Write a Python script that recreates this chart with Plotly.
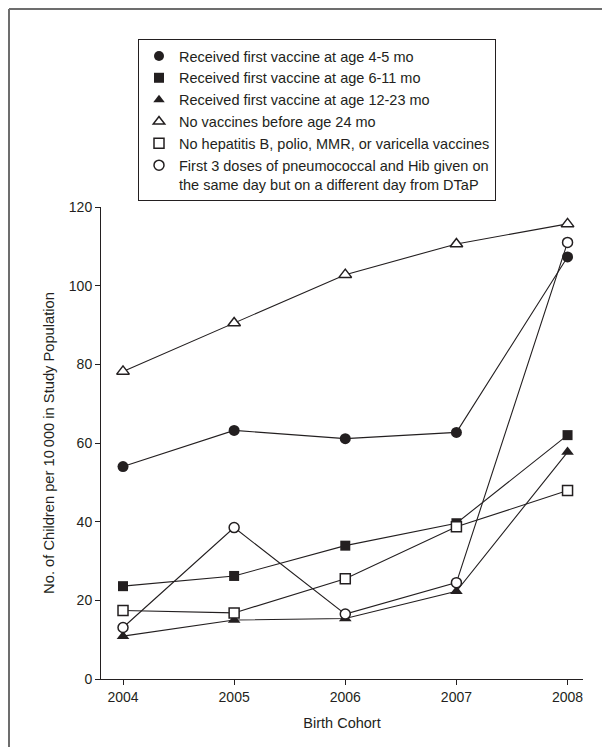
import plotly.graph_objects as go

years = [2004, 2005, 2006, 2007, 2008]

names = [
    "Received first vaccine at age 4-5 mo",
    "Received first vaccine at age 6-11 mo",
    "Received first vaccine at age 12-23 mo",
    "No vaccines before age 24 mo",
    "No hepatitis B, polio, MMR, or varicella vaccines",
    "First 3 doses of pneumococcal and Hib given on<br>the same day but on a different day from DTaP",
]

age_4_5 = [54.0, 63.2, 61.1, 62.7, 107.3]
age_6_11 = [23.6, 26.2, 33.9, 39.6, 62.0]
age_12_23 = [10.9, 15.0, 15.4, 22.3, 57.7]
no_vacc_24 = [78.2, 90.5, 102.8, 110.6, 115.7]
no_hepb_polio = [17.4, 16.8, 25.5, 38.7, 47.9]
pcv_hib = [13.1, 38.5, 16.5, 24.5, 111.0]

series = [age_4_5, age_6_11, age_12_23, no_vacc_24, no_hepb_polio, pcv_hib]
symbols = ["circle", "square", "triangle-up", "triangle-up", "square", "circle"]
filled = [True, True, True, False, False, False]
sizes = [11, 10, 11, 11, 10, 10]

y_ticks = [0, 20, 40, 60, 80, 100, 120]

FONT = "Liberation Sans, Arial, sans-serif"
INK = "#231f20"

fig = go.Figure()
for vals, sym, fl, sz in zip(series, symbols, filled, sizes):
    fig.add_trace(go.Scatter(
        x=years, y=vals, mode="lines+markers",
        line=dict(color=INK, width=1.1),
        marker=dict(symbol=sym, size=sz, color=INK if fl else "white",
                    line=dict(color=INK, width=0 if fl else 1.5)),
        showlegend=False, hoverinfo="skip", cliponaxis=False,
    ))

for name, sym, fl in zip(names, symbols, filled):
    fig.add_trace(go.Scatter(
        x=[None], y=[None], mode="markers", name=name,
        marker=dict(symbol=sym, size=10, color=INK if fl else "white",
                    line=dict(color=INK, width=0 if fl else 1.5)),
        showlegend=True,
    ))

# page is offset by 8 px (body margin); work in window pixels and keep the
# figure inside the window
OFF = 8
W, H = 610 - 2 * OFF, 755 - 2 * OFF
L = 101 - OFF
T = 207 - OFF
R = W - (583 - OFF)
B = H - (679 - OFF)
pw, ph = W - L - R, H - T - B

def px_x(p):
    return (p - OFF - L) / pw

def px_y(p):
    return (H - B - (p - OFF)) / ph

border = dict(color="#6d6d6d", width=2)

fig.update_layout(
    width=W, height=H,
    margin=dict(l=L, r=R, t=T, b=B),
    paper_bgcolor="white", plot_bgcolor="white",
    font=dict(family=FONT, size=14, color=INK),
    showlegend=True,
    legend=dict(
        x=px_x(138), y=px_y(39), xanchor="left", yanchor="top",
        bordercolor=INK, borderwidth=1, bgcolor="white",
        font=dict(family=FONT, size=14.5, color=INK),
        itemsizing="trace", tracegroupgap=0, valign="top",
    ),
    xaxis=dict(
        range=[2003.802, 2008.139], tickvals=years, ticktext=[str(y) for y in years],
        showgrid=False, zeroline=False, showline=True, linecolor=INK, linewidth=1,
        ticks="outside", ticklen=5, tickcolor=INK, tickwidth=1,
        title=dict(text="Birth Cohort", font=dict(size=14.5), standoff=14),
        tickfont=dict(size=14),
    ),
    yaxis=dict(
        range=[0, 120], tickvals=y_ticks,
        showgrid=False, zeroline=False, showline=True, linecolor=INK, linewidth=1,
        ticks="outside", ticklen=5, tickcolor=INK, tickwidth=1,
        title=dict(text="No. of Children per 10\u2009000 in Study Population", font=dict(size=14.7), standoff=10),
        tickfont=dict(size=14),
    ),
    shapes=[
        dict(type="line", xref="paper", yref="paper",
             x0=px_x(9), x1=px_x(9), y0=px_y(747), y1=px_y(9), line=border),
        dict(type="line", xref="paper", yref="paper",
             x0=px_x(9), x1=px_x(602), y0=px_y(9), y1=px_y(9), line=border),
    ],
)

fig.write_html("out.html")
